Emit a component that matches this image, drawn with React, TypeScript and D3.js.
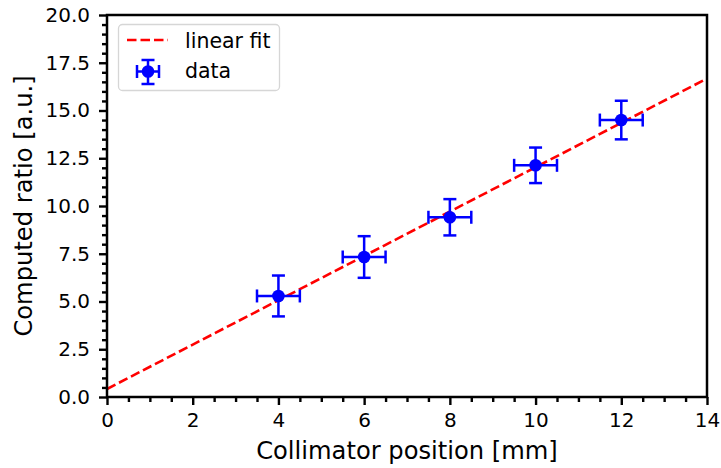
import React, { useEffect, useRef } from "react";
import * as d3 from "d3";

// values
const positions: number[] = [4, 6, 8, 10, 12];
const ratios: number[] = [5.29, 7.33, 9.41, 12.13, 14.5];
const ratioErrors: number[] = [1.07, 1.09, 0.95, 0.93, 1.01];
const positionErrors: number[] = [0.5, 0.5, 0.5, 0.5, 0.5];
const fitSlope = 1.161;
const fitIntercept = 0.42;

const xTicks: number[] = [0, 2, 4, 6, 8, 10, 12, 14];
const yTicks: number[] = [0, 2.5, 5, 7.5, 10, 12.5, 15, 17.5, 20];

const width = 721;
const height = 468;
const marginTop = 15;
const marginRight = 14;
const marginBottom = 71;
const marginLeft = 107;

const font = "DejaVu Sans, sans-serif";
const blue = "#0000ff";
const red = "#ff0000";

const App = () => {
  const axisBottomEl = useRef<SVGGElement>(null);
  const axisLeftEl = useRef<SVGGElement>(null);

  const x = d3
    .scaleLinear()
    .domain([0, 14])
    .range([marginLeft, width - marginRight]);

  const y = d3
    .scaleLinear()
    .domain([0, 20])
    .range([height - marginBottom, marginTop]);

  const fitLine = d3
    .line<number>()
    .x((d) => x(d))
    .y((d) => y(fitSlope * d + fitIntercept));

  useEffect(() => {
    const xMinor = d3.range(0, 14.01, 0.5).filter((v) => v % 2 !== 0);
    const yMinor = d3.range(0, 20.01, 0.5).filter((v) => v % 2.5 !== 0);

    const gx = d3.select(axisBottomEl.current);
    gx.selectAll("*").remove();
    gx.append("g")
      .call(d3.axisBottom(x).tickValues(xMinor).tickSize(5).tickFormat(() => "") as any)
      .call((g) => g.select(".domain").remove());
    gx.append("g")
      .call(d3.axisBottom(x).tickValues(xTicks).tickSize(8).tickPadding(8).tickFormat(d3.format("d")) as any)
      .call((g) => g.select(".domain").remove());
    gx.selectAll("line").attr("stroke-width", 2.4);
    gx.selectAll("text").attr("font-size", 20).attr("font-family", font).attr("fill", "#000");

    const gy = d3.select(axisLeftEl.current);
    gy.selectAll("*").remove();
    gy.append("g")
      .call(d3.axisLeft(y).tickValues(yMinor).tickSize(5).tickFormat(() => "") as any)
      .call((g) => g.select(".domain").remove());
    gy.append("g")
      .call(d3.axisLeft(y).tickValues(yTicks).tickSize(8).tickPadding(9).tickFormat(d3.format(".1f")) as any)
      .call((g) => g.select(".domain").remove());
    gy.selectAll("line").attr("stroke-width", 2.4);
    gy.selectAll("text").attr("font-size", 20).attr("font-family", font).attr("fill", "#000");
  }, []);

  const cap = 6.5;

  return (
    <svg
      width={width}
      height={height}
      style={{ position: "absolute", left: 0, top: 0, background: "#fff" }}
    >
      <defs>
        <clipPath id="plot">
          <rect
            x={marginLeft}
            y={marginTop}
            width={width - marginLeft - marginRight}
            height={height - marginTop - marginBottom}
          />
        </clipPath>
      </defs>

      <path
        d={fitLine([0, 14]) as string}
        fill="none"
        stroke={red}
        strokeWidth={2.6}
        strokeDasharray="9.5,4"
        clipPath="url(#plot)"
      />

      <g stroke={blue} strokeWidth={2.5} fill={blue}>
        {positions.map((p, i) => {
          const cx = x(p);
          const cy = y(ratios[i]);
          const x0 = x(p - positionErrors[i]);
          const x1 = x(p + positionErrors[i]);
          const y0 = y(ratios[i] - ratioErrors[i]);
          const y1 = y(ratios[i] + ratioErrors[i]);
          return (
            <g key={i}>
              <line x1={x0} x2={x1} y1={cy} y2={cy} />
              <line x1={cx} x2={cx} y1={y0} y2={y1} />
              <line x1={x0} x2={x0} y1={cy - cap} y2={cy + cap} />
              <line x1={x1} x2={x1} y1={cy - cap} y2={cy + cap} />
              <line x1={cx - cap} x2={cx + cap} y1={y0} y2={y0} />
              <line x1={cx - cap} x2={cx + cap} y1={y1} y2={y1} />
              <circle cx={cx} cy={cy} r={6.3} stroke="none" />
            </g>
          );
        })}
      </g>

      <rect
        x={marginLeft}
        y={marginTop}
        width={width - marginLeft - marginRight}
        height={height - marginTop - marginBottom}
        fill="none"
        stroke="#000"
        strokeWidth={2.5}
      />

      <g ref={axisLeftEl} transform={`translate(${marginLeft},0)`} />
      <g ref={axisBottomEl} transform={`translate(0,${height - marginBottom})`} />

      {/* legend */}
      <g fontFamily={font} fontSize={20.5}>
        <rect
          x={118.5}
          y={24.5}
          width={161}
          height={66}
          rx={4}
          fill="#fff"
          fillOpacity={0.8}
          stroke="#d6d6d6"
          strokeWidth={1.3}
        />
        <line
          x1={127}
          x2={168}
          y1={40}
          y2={40}
          stroke={red}
          strokeWidth={2.6}
          strokeDasharray="9.5,4"
        />
        <text x={185} y={47.5} fill="#000">
          linear fit
        </text>
        <g stroke={blue} strokeWidth={2.5} fill={blue}>
          <line x1={137} x2={159} y1={71.5} y2={71.5} />
          <line x1={148} x2={148} y1={60} y2={84} />
          <line x1={137} x2={137} y1={71.5 - cap} y2={71.5 + cap} />
          <line x1={159} x2={159} y1={71.5 - cap} y2={71.5 + cap} />
          <line x1={148 - cap} x2={148 + cap} y1={60} y2={60} />
          <line x1={148 - cap} x2={148 + cap} y1={84} y2={84} />
          <circle cx={148} cy={71.5} r={6.3} stroke="none" />
        </g>
        <text x={185} y={78} fill="#000">
          data
        </text>
      </g>

      <text
        x={(marginLeft + width - marginRight) / 2}
        y={459}
        textAnchor="middle"
        fontFamily={font}
        fontSize={24.2}
        fill="#000"
      >
        Collimator position [mm]
      </text>
      <text
        transform={`translate(32,${(marginTop + height - marginBottom) / 2}) rotate(-90)`}
        textAnchor="middle"
        fontFamily={font}
        fontSize={24.2}
        fill="#000"
      >
        Computed ratio [a.u.]
      </text>
    </svg>
  );
};

export default App;
